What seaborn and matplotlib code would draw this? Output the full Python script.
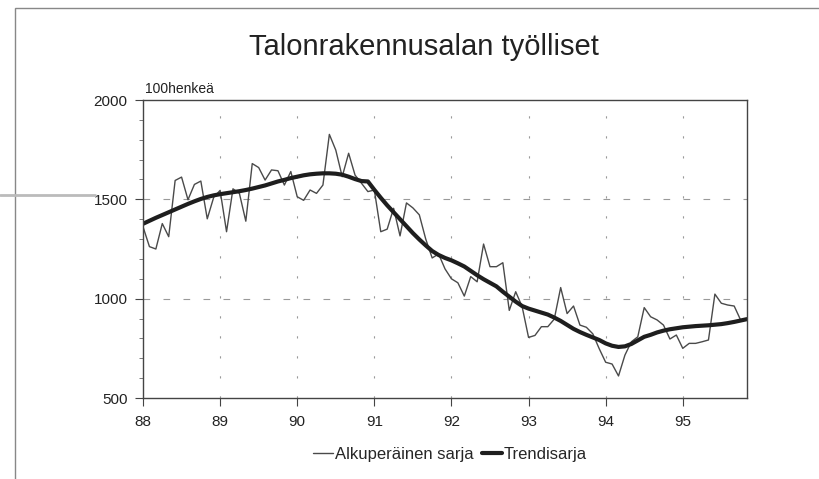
import numpy as np
import pandas as pd
import matplotlib
matplotlib.use('Agg')
import matplotlib.pyplot as plt
import seaborn as sns
from matplotlib.ticker import MultipleLocator
from matplotlib.patches import Rectangle
from matplotlib.lines import Line2D


# Talonrakennusalan tyolliset, kuukausittain 1/88 - 11/95 (100 henkea)

start_year = 88
original_series = [
    1362, 1262, 1250, 1378, 1312, 1595, 1612, 1498, 1575, 1592, 1402, 1510,
    1545, 1337, 1553, 1530, 1390, 1680, 1660, 1597, 1648, 1644, 1572, 1640,
    1513, 1495, 1547, 1530, 1572, 1827, 1748, 1614, 1732, 1622, 1581, 1539,
    1547, 1337, 1350, 1455, 1316, 1482, 1457, 1422, 1300, 1205, 1225, 1150,
    1100, 1080, 1013, 1111, 1085, 1275, 1161, 1161, 1181, 941, 1035, 960,
    805, 815, 859, 859, 897, 1056, 925, 963, 867, 856, 823, 748,
    680, 671, 611, 716, 783, 808, 955, 909, 893, 867, 797, 817,
    750, 775, 775, 783, 792, 1023, 977, 968, 963, 893,
]
trend_series = [
    1377, 1392, 1407, 1421, 1435, 1449, 1463, 1477, 1490, 1502, 1512, 1520,
    1526, 1531, 1536, 1541, 1547, 1554, 1562, 1570, 1580, 1590, 1598, 1607,
    1614, 1621, 1626, 1629, 1631, 1631, 1629, 1624, 1614, 1602, 1592, 1590,
    1548, 1508, 1470, 1435, 1400, 1365, 1330, 1298, 1268, 1240, 1220, 1205,
    1193, 1178, 1162, 1140, 1118, 1098, 1080, 1062, 1035, 1010, 985, 963,
    950, 940, 930, 920, 905, 888, 868, 848, 832, 818, 805, 792,
    775, 763, 757, 760, 772, 790, 808, 818, 830, 839, 846, 851,
    856, 859, 862, 864, 866, 869, 872, 877, 883, 890, 897,
]
year_ticks = [88, 89, 90, 91, 92, 93, 94, 95]
y_ticks = [500, 1000, 1500, 2000]

orig_df = pd.DataFrame({
    'aika': start_year + np.arange(len(original_series)) / 12.0,
    'arvo': original_series,
})
trend_df = pd.DataFrame({
    'aika': start_year + np.arange(len(trend_series)) / 12.0,
    'arvo': trend_series,
})

sns.set_style('white')
plt.rcParams['font.family'] = ['Liberation Sans', 'DejaVu Sans']

fig = plt.figure(figsize=(8.2, 4.79), dpi=100)
ax = fig.add_axes([0.1744, 0.1691, 0.7366, 0.6221])

sns.lineplot(data=orig_df, x='aika', y='arvo', ax=ax, color='#4a4a4a',
             linewidth=1.0, label='Alkuperäinen sarja')
sns.lineplot(data=trend_df, x='aika', y='arvo', ax=ax, color='#1e1e1e',
             linewidth=3.0, label='Trendisarja')

ax.set_xlim(start_year, start_year + (len(trend_series) - 1) / 12.0)
ax.set_ylim(500, 2000)
ax.set_xticks(year_ticks)
ax.set_xticklabels([str(y) for y in year_ticks])
ax.set_yticks(y_ticks)
ax.yaxis.set_minor_locator(MultipleLocator(100))
ax.set_xlabel('')
ax.set_ylabel('')

for s in ax.spines.values():
    s.set_color('#444444')
    s.set_linewidth(1.0)

ax.tick_params(axis='both', which='major', direction='out', length=6,
               width=0.8, color='#444444', labelsize=11, labelcolor='#222222')
ax.tick_params(axis='y', which='minor', direction='out', length=3,
               width=0.6, color='#666666', left=True)
ax.tick_params(axis='x', pad=6, bottom=True)
ax.tick_params(axis='y', pad=5, left=True)

for yv in [1000, 1500]:
    ax.axhline(yv, color='#999999', linewidth=0.8, dashes=(6, 12), zorder=0)
for xv in year_ticks[1:]:
    ax.axvline(xv, color='#999999', linewidth=0.8, dashes=(2, 16), zorder=0)

ax.text(0.003, 1.015, '100henkeä', transform=ax.transAxes, fontsize=10,
        color='#222222', ha='left', va='bottom')

fig.text(0.517, 0.902, 'Talonrakennusalan työlliset', ha='center',
         va='center', fontsize=21, color='#222222')

ax.legend(loc='upper center', bbox_to_anchor=(0.508, -0.115), ncol=2,
          frameon=False, fontsize=12, handlelength=1.2,
          handletextpad=0.1, columnspacing=0.5)

# kehys kuvan ympärillä
fig.patches.append(Rectangle((15 / 820, -0.05), 1.2, 1 - 8 / 479 + 0.05,
                             transform=fig.transFigure, fill=False,
                             edgecolor='#888888', linewidth=1.0))
fig.lines.append(Line2D([0, 95 / 820], [1 - 195 / 479, 1 - 195 / 479],
                        transform=fig.transFigure, color='#bbbbbb',
                        linewidth=2.0))

fig.savefig('out.png', dpi=100)
